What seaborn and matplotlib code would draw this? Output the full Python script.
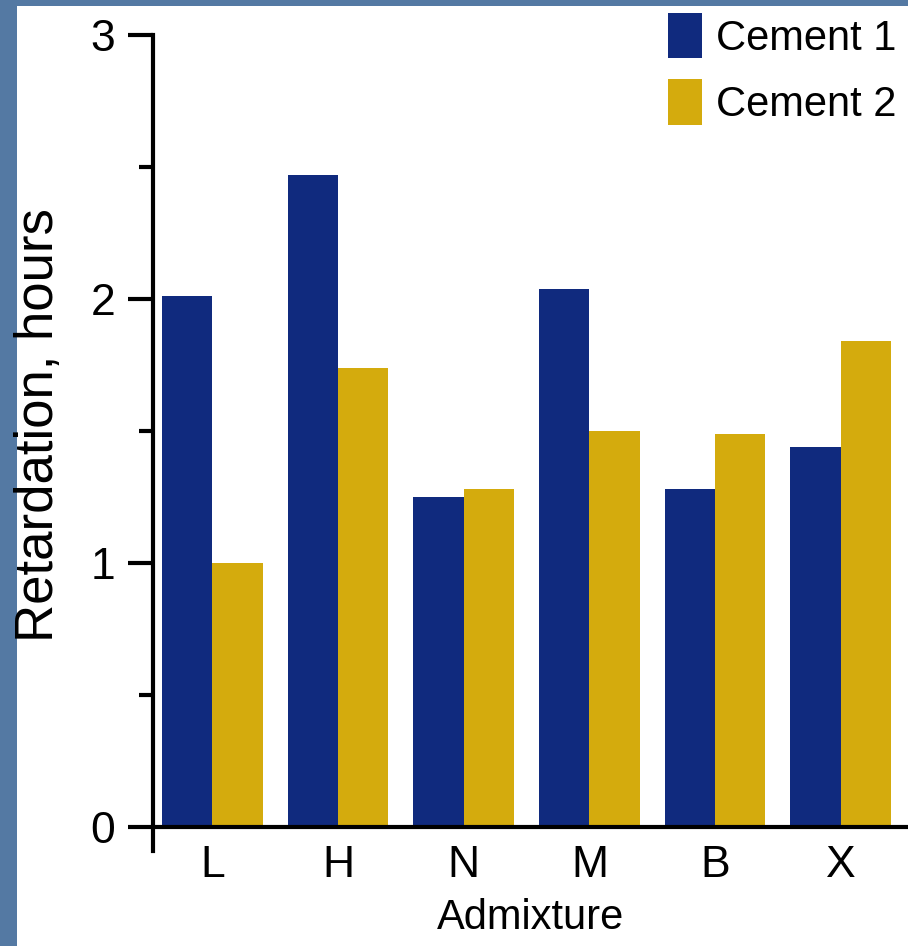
import matplotlib
matplotlib.use("Agg")
import matplotlib.pyplot as plt
from matplotlib.patches import Rectangle
from matplotlib.ticker import MultipleLocator
import seaborn as sns
import pandas as pd

admixtures = ["L", "H", "N", "M", "B", "X"]
cement_1 = [2.01, 2.47, 1.25, 2.04, 1.28, 1.44]
cement_2 = [1.00, 1.74, 1.28, 1.50, 1.49, 1.84]
series_names = ["Cement 1", "Cement 2"]
colors = ["#102a7e", "#d4ab0d"]

df = pd.DataFrame({
    "Admixture": admixtures * 2,
    "Retardation": cement_1 + cement_2,
    "Cement": [series_names[0]] * len(admixtures) + [series_names[1]] * len(admixtures),
})

sns.set_theme(style="white")
plt.rcParams["font.family"] = ["Liberation Sans", "DejaVu Sans"]
plt.rcParams["text.color"] = "black"
plt.rcParams["axes.labelcolor"] = "black"
plt.rcParams["xtick.color"] = "black"
plt.rcParams["ytick.color"] = "black"

fig = plt.figure(figsize=(9.08, 9.46), dpi=100, facecolor="#5479a3")
# white slide panel
fig.add_artist(Rectangle((17 / 908, 0), 1, 940 / 946, transform=fig.transFigure,
                         facecolor="white", edgecolor="none", zorder=-10))

ax = fig.add_axes([153 / 908, 95 / 946, 755 / 908, 816 / 946])
ax.set_facecolor("none")

sns.barplot(data=df, x="Admixture", y="Retardation", hue="Cement",
            palette=colors, saturation=1, width=0.8, linewidth=0, ax=ax)

ax.set_xlim(-0.472, 5.535)
ax.set_ylim(-0.09, 3)
ax.yaxis.set_major_locator(MultipleLocator(1))
ax.yaxis.set_minor_locator(MultipleLocator(0.5))
ax.yaxis.set_major_formatter(matplotlib.ticker.FormatStrFormatter("%d"))

for s in ["top", "right"]:
    ax.spines[s].set_visible(False)
ax.spines["bottom"].set_position(("data", 0))
for s in ["left", "bottom"]:
    ax.spines[s].set_color("black")
    ax.spines[s].set_linewidth(3)

ax.tick_params(axis="y", which="major", direction="out", length=18, width=3,
               labelsize=32, pad=9, left=True)
ax.tick_params(axis="y", which="minor", direction="out", length=10, width=3, left=True)
ax.tick_params(axis="x", length=0, labelsize=32, pad=13)

ax.set_xlabel("Admixture", fontsize=30)
ax.xaxis.set_label_coords(0.5, -0.057)
ax.set_ylabel("Retardation, hours", fontsize=38)
ax.yaxis.set_label_coords(-0.118, 0.522)

ax.legend(loc="upper left", bbox_to_anchor=(668 / 908, 1 - 13 / 946),
          bbox_transform=fig.transFigure, frameon=False, fontsize=30,
          handlelength=0.82, handleheight=1.29, handletextpad=0.32,
          labelspacing=0.5, borderpad=0, borderaxespad=0)

fig.savefig("out.png", dpi=100, facecolor=fig.get_facecolor())
